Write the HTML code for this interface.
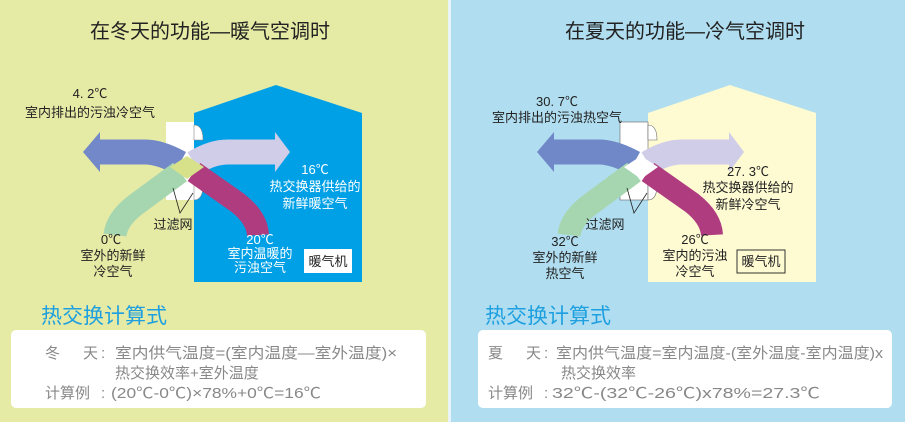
<!DOCTYPE html>
<html><head><meta charset="utf-8"><style>
body{margin:0;width:905px;height:422px;overflow:hidden;font-family:"Liberation Sans","Noto Sans CJK SC",sans-serif}
</style></head><body>
<svg width="905" height="422" viewBox="0 0 905 422" xmlns="http://www.w3.org/2000/svg" style="font-family:'Liberation Sans','Noto Sans CJK SC',sans-serif">
<rect x="0" y="0" width="448" height="422" fill="#e5eaa5"/>
<rect x="448" y="0" width="3" height="422" fill="#e8f4f8"/>
<rect x="451" y="0" width="454" height="422" fill="#b0ddef"/>
<text x="210" y="38" font-size="20" text-anchor="middle" fill="#222">在冬天的功能—暖气空调时</text>
<text x="685" y="38" font-size="20" text-anchor="middle" fill="#222">在夏天的功能—冷气空调时</text>

<g id="L">
<polygon points="194,113 276,85 362,113 362,282 194,282" fill="#00a0e6"/>
<rect x="166" y="122" width="28" height="78" fill="#fff"/>
<path d="M194 125 Q203 125 203 140 L194 140Z M194 185 L203 185 Q203 200 194 200Z" fill="#fff" stroke="#888" stroke-width="0.6"/>
<path d="M100 152 L145 152 Q160 152 180 163" fill="none" stroke="#7388c8" stroke-width="25"/>
<polygon points="100,132 83,152 100,172" fill="#7388c8"/>
<path d="M194 163 Q212 152 228 152 L276 152" fill="none" stroke="#d0cde8" stroke-width="25"/>
<polygon points="275,132 290,152 275,172" fill="#d0cde8"/>
<path d="M180 172 L138 203 Q117 218 115 235" fill="none" stroke="#a6d6b0" stroke-width="23"/>
<path d="M194 172 L238 203 Q257 218 258 235" fill="none" stroke="#b03c80" stroke-width="22"/>
<polygon points="170,167 187,156 204,167 187,179" fill="#d6e18a"/>
<polyline points="173,188 180,213 193,193" fill="none" stroke="#222" stroke-width="0.8"/>
</g>
<g font-size="13" text-anchor="middle" fill="#222">
<text x="90" y="98">4. 2℃</text>
<text x="90" y="117">室内排出的污浊冷空气</text>
<text x="173" y="229">过滤网</text>
<text x="111" y="244">0℃</text>
<text x="113" y="260">室外的新鲜</text>
<text x="113" y="276">冷空气</text>
</g>
<g font-size="13" text-anchor="middle" fill="#fff">
<text x="315" y="174">16℃</text>
<text x="315" y="191">热交换器供给的</text>
<text x="315" y="208">新鲜暖空气</text>
<text x="260" y="244">20℃</text>
<text x="260" y="258">室内温暖的</text>
<text x="260" y="272">污浊空气</text>
</g>
<rect x="304" y="249" width="48" height="24" fill="#fff"/>
<text x="328" y="266" font-size="13" text-anchor="middle" fill="#222">暖气机</text>

<g transform="translate(454,0)">
<polygon points="194,113 276,85 362,113 362,282 194,282" fill="#fefbd2"/>
<rect x="166" y="122" width="28" height="78" fill="#fff" stroke="#666" stroke-width="0.6"/>
<path d="M194 125 Q203 125 203 140 L194 140Z M194 185 L203 185 Q203 200 194 200Z" fill="#fff" stroke="#666" stroke-width="0.6"/>
<path d="M100 152 L145 152 Q160 152 180 163" fill="none" stroke="#7088c8" stroke-width="25"/>
<polygon points="100,132 83,152 100,172" fill="#7088c8"/>
<path d="M194 163 Q212 152 228 152 L276 152" fill="none" stroke="#d0cde8" stroke-width="25"/>
<polygon points="275,132 290,152 275,172" fill="#d0cde8"/>
<path d="M180 172 L138 203 Q117 218 115 235" fill="none" stroke="#a6d6b0" stroke-width="23"/>
<path d="M194 172 L238 203 Q257 218 258 235" fill="none" stroke="#b03c80" stroke-width="22"/>
<polygon points="170,167 187,156 204,167 187,179" fill="#fff"/>
<polyline points="173,188 180,213 193,193" fill="none" stroke="#222" stroke-width="0.8"/>
</g>
<g font-size="13" text-anchor="middle" fill="#222">
<text x="557" y="106">30. 7℃</text>
<text x="557" y="122">室内排出的污浊热空气</text>
<text x="748" y="176">27. 3℃</text>
<text x="748" y="192">热交换器供给的</text>
<text x="748" y="209">新鲜冷空气</text>
<text x="605" y="229">过滤网</text>
<text x="565" y="246">32℃</text>
<text x="565" y="262">室外的新鲜</text>
<text x="565" y="278">热空气</text>
<text x="695" y="244">26℃</text>
<text x="695" y="260">室内的污浊</text>
<text x="695" y="276">冷空气</text>
</g>
<rect x="737" y="250" width="48" height="23" fill="none" stroke="#333" stroke-width="1"/>
<text x="761" y="266" font-size="13" text-anchor="middle" fill="#222">暖气机</text>

<text x="41" y="323" font-size="21" fill="#1ea0e0">热交换计算式</text>
<text x="485" y="323" font-size="21" fill="#1ea0e0">热交换计算式</text>
<rect x="11" y="330" width="415" height="78" rx="5" fill="#fff"/>
<rect x="478" y="330" width="414" height="78" rx="5" fill="#fff"/>
<g font-size="15" fill="#888">
<text x="45" y="358">冬</text><text x="83" y="358">天</text><text x="101" y="358">:</text>
<text x="115" y="358" textLength="282" lengthAdjust="spacingAndGlyphs">室内供气温度=(室内温度—室外温度)×</text>
<text x="115" y="378">热交换效率+室外温度</text>
<text x="45" y="398">计算例</text><text x="101" y="398">:</text>
<text x="111" y="398" textLength="210" lengthAdjust="spacingAndGlyphs">(20℃-0℃)×78%+0℃=16℃</text>
<text x="488" y="358">夏</text><text x="526" y="358">天</text><text x="544" y="358">:</text>
<text x="556" y="358" textLength="327" lengthAdjust="spacingAndGlyphs">室内供气温度=室内温度-(室外温度-室内温度)x</text>
<text x="561" y="378">热交换效率</text>
<text x="488" y="398">计算例</text><text x="544" y="398">:</text>
<text x="552" y="398" textLength="268" lengthAdjust="spacingAndGlyphs">32℃-(32℃-26℃)x78%=27.3℃</text>
</g>
</svg>
</body></html>
